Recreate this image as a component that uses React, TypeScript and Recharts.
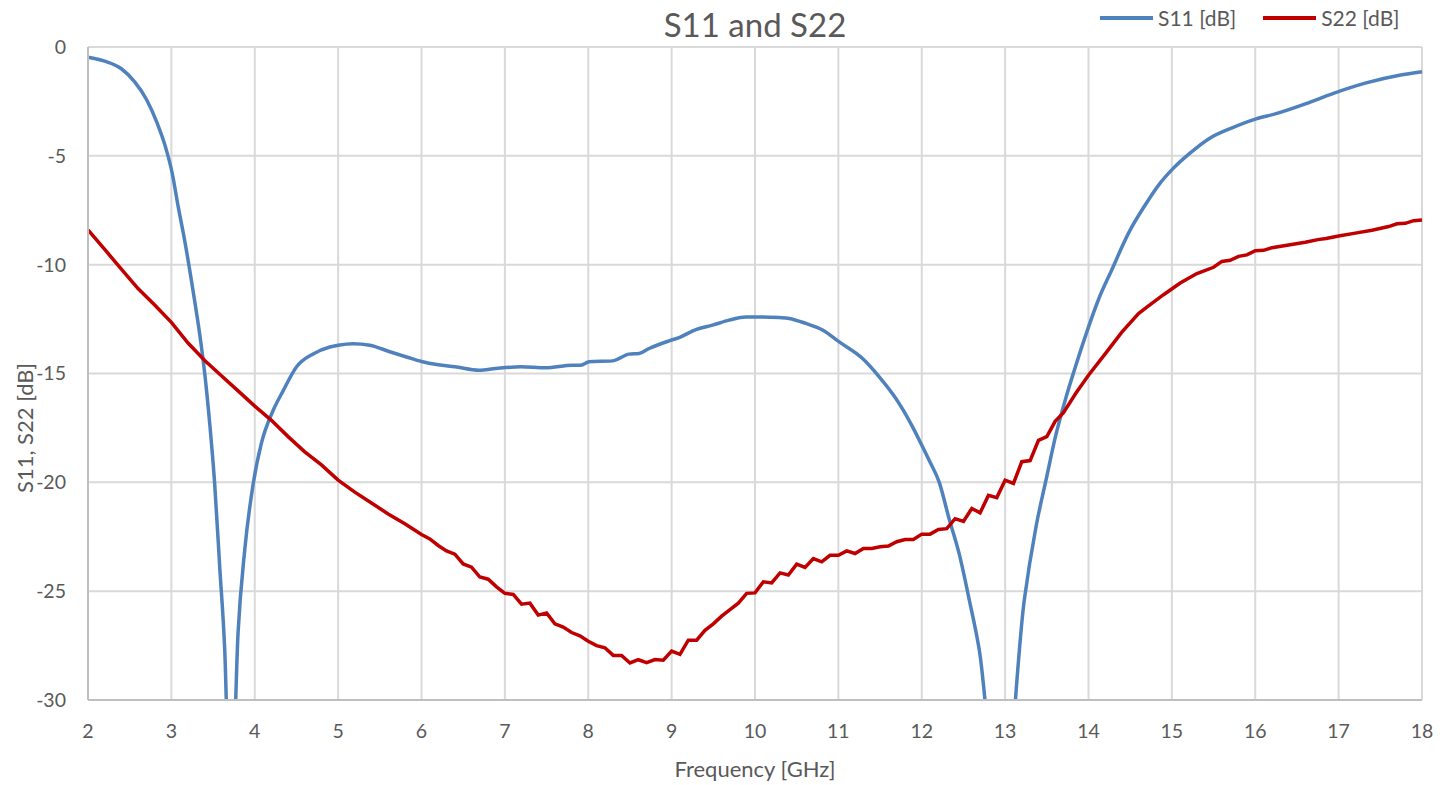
import React from 'react';
import { LineChart, Line, XAxis, YAxis, CartesianGrid, Legend } from 'recharts';

const freqS11 = [
    2.0, 2.2, 2.4, 2.56, 2.7, 2.83, 2.93, 3.01, 3.08, 3.16, 3.26, 3.34, 3.4, 3.46, 3.52, 3.58, 3.64, 3.71,
    3.8, 3.88, 3.98, 4.08, 4.22, 4.34, 4.5, 4.7, 4.9, 5.0, 5.18, 5.38, 5.62, 5.82, 6.0, 6.2, 6.4, 6.69,
    6.89, 7.19, 7.49, 7.81, 7.91, 8.01, 8.29, 8.49, 8.61, 8.73, 8.97, 9.09, 9.29, 9.49, 9.69, 9.89, 10.09,
    10.29, 10.41, 10.61, 10.81, 11.01, 11.29, 11.49, 11.69, 11.89, 12.01, 12.09, 12.21, 12.33, 12.45,
    12.57, 12.69, 12.95, 13.23, 13.37, 13.49, 13.61, 13.73, 13.83, 13.97, 14.12, 14.28, 14.48, 14.69,
    14.85, 15.01, 15.21, 15.45, 15.73, 16.01, 16.25, 16.61, 16.93, 17.33, 17.73, 18.0,
];
const s11 = [
    -0.47, -0.65, -1.0, -1.6, -2.4, -3.5, -4.6, -5.8, -7.3, -8.9, -11.2, -13.2, -15.0, -17.3, -20.1, -23.9, -27.7, -36,
    -26.9, -23.1, -20.1, -18.2, -16.7, -15.8, -14.7, -14.1, -13.78, -13.7, -13.63, -13.7, -14.0, -14.24, -14.45, -14.6, -14.69, -14.85,
    -14.77, -14.69, -14.74, -14.62, -14.62, -14.46, -14.42, -14.11, -14.08, -13.85, -13.5, -13.35, -12.98, -12.78, -12.55, -12.4, -12.4,
    -12.43, -12.47, -12.7, -13.0, -13.55, -14.31, -15.15, -16.15, -17.45, -18.37, -19.0, -20.0, -21.7, -23.3,
    -25.4, -27.7, -36, -25.4, -22.05, -19.9, -17.8, -16.1, -14.85, -13.2, -11.6, -10.23, -8.55, -7.2,
    -6.3, -5.6, -4.9, -4.2, -3.7, -3.3, -3.06, -2.6, -2.14, -1.65, -1.3, -1.14,
];

const freqS22 = [
    2.0, 2.2, 2.4, 2.6, 2.8, 3.0, 3.2, 3.4, 3.6, 3.8, 4.0, 4.2, 4.4, 4.6, 4.8, 5.0, 5.2, 5.4, 5.6, 5.8,
    6.0, 6.1, 6.2, 6.3, 6.4, 6.5, 6.6, 6.7, 6.8, 6.9, 7.0, 7.1, 7.2, 7.3, 7.4, 7.5, 7.6, 7.7, 7.8, 7.9,
    8.0, 8.1, 8.2, 8.3, 8.4, 8.5, 8.6, 8.7, 8.8, 8.9, 9.0, 9.1, 9.2, 9.3, 9.4, 9.5, 9.6, 9.7, 9.8, 9.9,
    10.0, 10.1, 10.2, 10.3, 10.4, 10.5, 10.6, 10.7, 10.8, 10.9, 11.0, 11.1, 11.2, 11.3, 11.4, 11.5, 11.6, 11.7, 11.8, 11.9,
    12.0, 12.1, 12.2, 12.3, 12.4, 12.5, 12.6, 12.7, 12.8, 12.9, 13.0, 13.1, 13.2, 13.3, 13.4, 13.5, 13.6, 13.7, 13.85,
    14.0, 14.2, 14.4, 14.6, 14.7, 14.9, 15.1, 15.3, 15.5, 15.6, 15.7, 15.8, 15.9, 16.0, 16.1, 16.2, 16.4, 16.6, 16.75,
    16.85, 17.0, 17.2, 17.4, 17.6, 17.7, 17.8, 17.9, 18.0,
];
const s22 = [
    -8.4, -9.3, -10.2, -11.1, -11.85, -12.65, -13.6, -14.4, -15.1, -15.8, -16.5, -17.15, -17.9, -18.6, -19.2, -19.9, -20.45, -20.95, -21.45, -21.9,
    -22.4, -22.6, -22.9, -23.15, -23.3, -23.75, -23.9, -24.35, -24.45, -24.8, -25.1, -25.15, -25.6, -25.55, -26.1, -26.0, -26.5, -26.65, -26.9, -27.05,
    -27.3, -27.5, -27.6, -27.95, -27.95, -28.3, -28.15, -28.28, -28.14, -28.17, -27.75, -27.9, -27.25, -27.25, -26.8, -26.5, -26.15, -25.85, -25.55, -25.1,
    -25.08, -24.57, -24.62, -24.16, -24.26, -23.76, -23.91, -23.5, -23.65, -23.35, -23.35, -23.15, -23.27, -23.04, -23.04, -22.96, -22.93, -22.73, -22.63, -22.63,
    -22.38, -22.38, -22.17, -22.13, -21.67, -21.8, -21.2, -21.4, -20.6, -20.7, -19.9, -20.05, -19.05, -19.0, -18.07, -17.9, -17.2, -16.8, -15.9,
    -15.08, -14.1, -13.1, -12.25, -11.95, -11.38, -10.84, -10.41, -10.12, -9.85, -9.8, -9.62, -9.55, -9.36, -9.34, -9.22, -9.1, -8.97, -8.85,
    -8.8, -8.68, -8.55, -8.42, -8.25, -8.12, -8.1, -7.98, -7.95,
];

const xTicks = [2, 3, 4, 5, 6, 7, 8, 9, 10, 11, 12, 13, 14, 15, 16, 17, 18];
const yTicks = [-30, -25, -20, -15, -10, -5, 0];

const seriesNames = ['S11 [dB]', 'S22 [dB]'];
const COLORS = ['#4F81BD', '#C00000'];

const s11Data = freqS11.map((f, i) => ({ f, v: s11[i] }));
const s22Data = freqS22.map((f, i) => ({ f, v: s22[i] }));

const FONT = 'Lato, "Open Sans", sans-serif';
const TEXT = '#595959';

const LegendBox = () => (
    <div style={{ display: 'flex', alignItems: 'center', fontFamily: FONT, fontSize: 21, color: TEXT }}>
        {seriesNames.map((name, i) => (
            <div key={name} style={{ display: 'flex', alignItems: 'center', marginRight: i === 0 ? 27 : 0 }}>
                <svg width={53} height={6} style={{ marginRight: 5 }}>
                    <line x1={0} y1={3} x2={53} y2={3} stroke={COLORS[i]} strokeWidth={4} />
                </svg>
                <span>{name}</span>
            </div>
        ))}
    </div>
);

export default function App() {
    return (
        <div style={{ position: 'absolute', left: 0, top: 0, width: 1454, height: 785, background: '#fff' }}>
            <div
                style={{
                    position: 'absolute',
                    left: 0,
                    width: 1510,
                    top: 8,
                    textAlign: 'center',
                    fontFamily: FONT,
                    fontSize: 33,
                    lineHeight: 1,
                    color: TEXT,
                }}
            >
                S11 and S22
            </div>
            <LineChart width={1454} height={785} margin={{ top: 47, right: 32, bottom: 0, left: 0 }}>
                <CartesianGrid stroke="#D9D9D9" strokeWidth={2} />
                <XAxis
                    type="number"
                    dataKey="f"
                    domain={[2, 18]}
                    ticks={xTicks}
                    allowDuplicatedCategory={false}
                    height={85}
                    tickSize={0}
                    tickMargin={24}
                    tickLine={false}
                    axisLine={{ stroke: '#BFBFBF', strokeWidth: 2 }}
                    tick={{ fill: TEXT, fontSize: 19.5, fontFamily: FONT }}
                    label={{
                        value: 'Frequency [GHz]',
                        position: 'insideBottom',
                        offset: 8,
                        fill: TEXT,
                        fontSize: 22,
                        fontFamily: FONT,
                    }}
                />
                <YAxis
                    type="number"
                    domain={[-30, 0]}
                    ticks={yTicks}
                    allowDataOverflow
                    width={88}
                    tickSize={0}
                    tickMargin={22}
                    tickLine={false}
                    axisLine={{ stroke: '#BFBFBF', strokeWidth: 2 }}
                    tick={{ fill: TEXT, fontSize: 19.5, fontFamily: FONT }}
                    label={{
                        content: () => (
                            <text
                                x={24}
                                y={428}
                                transform="rotate(-90 24 428)"
                                textAnchor="middle"
                                dominantBaseline="central"
                                fill={TEXT}
                                fontSize={22}
                                fontFamily={FONT}
                            >
                                S11, S22 [dB]
                            </text>
                        ),
                    }}
                />
                <Legend
                    layout="horizontal"
                    verticalAlign="middle"
                    align="center"
                    wrapperStyle={{ top: 5, left: 1100, width: 340, height: 30 }}
                    content={() => <LegendBox />}
                />
                <Line
                    data={s11Data}
                    dataKey="v"
                    name={seriesNames[0]}
                    type="monotone"
                    stroke={COLORS[0]}
                    strokeWidth={3.5}
                    dot={false}
                    activeDot={false}
                    isAnimationActive={false}
                />
                <Line
                    data={s22Data}
                    dataKey="v"
                    name={seriesNames[1]}
                    type="linear"
                    stroke={COLORS[1]}
                    strokeWidth={3.5}
                    dot={false}
                    activeDot={false}
                    isAnimationActive={false}
                />
            </LineChart>
        </div>
    );
}
